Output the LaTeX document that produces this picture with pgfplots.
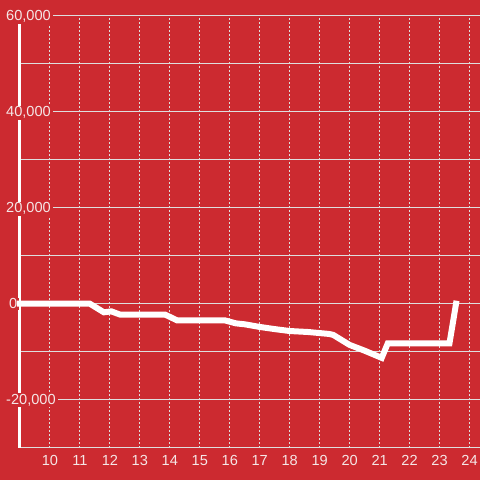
\documentclass[border=0pt]{standalone}
\usepackage{pgfplots}
\pgfplotsset{compat=1.18}
\usepackage{fontspec}
\setmainfont{Liberation Sans}
\definecolor{bgred}{RGB}{204,42,48}
\definecolor{gridc}{RGB}{222,222,222}
\definecolor{txtc}{RGB}{245,230,230}
\begin{document}
\begin{tikzpicture}
\fill[bgred] (0,0) rectangle (480pt,480pt);
\begin{axis}[
  at={(20pt,32pt)}, anchor=south west,
  scale only axis, width=460pt, height=432pt,
  xmin=9, xmax=24.333, ymin=-30000, ymax=60000,
  clip=false,
  scaled y ticks=false,
  /pgf/number format/assume math mode=true,
  axis x line*=bottom,
  axis y line*=left,
  x axis line style={draw=gridc, line width=1pt, -},
  y axis line style={draw=white, line width=3pt, -},
  xtick={10,...,24},
  xticklabels={\mbox{10},\mbox{11},\mbox{12},\mbox{13},\mbox{14},\mbox{15},\mbox{16},\mbox{17},\mbox{18},\mbox{19},\mbox{20},\mbox{21},\mbox{22},\mbox{23},\mbox{24}},
  ytick={-20000,0,20000,40000,60000},
  yticklabels={{\mbox{-20,000}},{\mbox{\hspace*{3pt}0}},{\mbox{20,000}},{\mbox{40,000}},{\mbox{60,000}}},
  minor ytick={-30000,-10000,10000,30000,50000},
  major tick length=0pt, minor tick length=0pt,
  ymajorgrids, yminorgrids, xmajorgrids,
  y grid style={gridc, line width=1pt},
  minor y grid style={gridc, line width=1pt},
  x grid style={gridc, line width=1pt, dash pattern=on 2pt off 2pt},
  tick label style={font=\fontsize{14.6}{16}\selectfont, text=txtc},
  yticklabel style={anchor=base west, xshift=-16pt, yshift=-5pt, fill=bgred, inner xsep=2pt, inner ysep=1pt},
  xticklabel style={anchor=base, yshift=-18pt, inner sep=0pt},
  extra y ticks={0}, extra y tick labels={},
  extra y tick style={grid style={white, line width=3pt}},
]
\addplot[white, line width=6pt, line cap=rect, line join=miter] coordinates {
(9,0) (11.33,0) (11.8,-1800) (12.05,-1600) (12.35,-2300) (13.85,-2300)
(14.25,-3500) (15.85,-3500) (16.2,-4100) (16.5,-4300) (17,-4850) (17.5,-5300)
(18,-5700) (18.6,-5900) (19.3,-6300) (19.45,-6500) (20,-8600) (20.5,-9800)
(21.07,-11300) (21.27,-8300) (23.33,-8300) (23.55,0)
};
\end{axis}
\end{tikzpicture}
\end{document}
